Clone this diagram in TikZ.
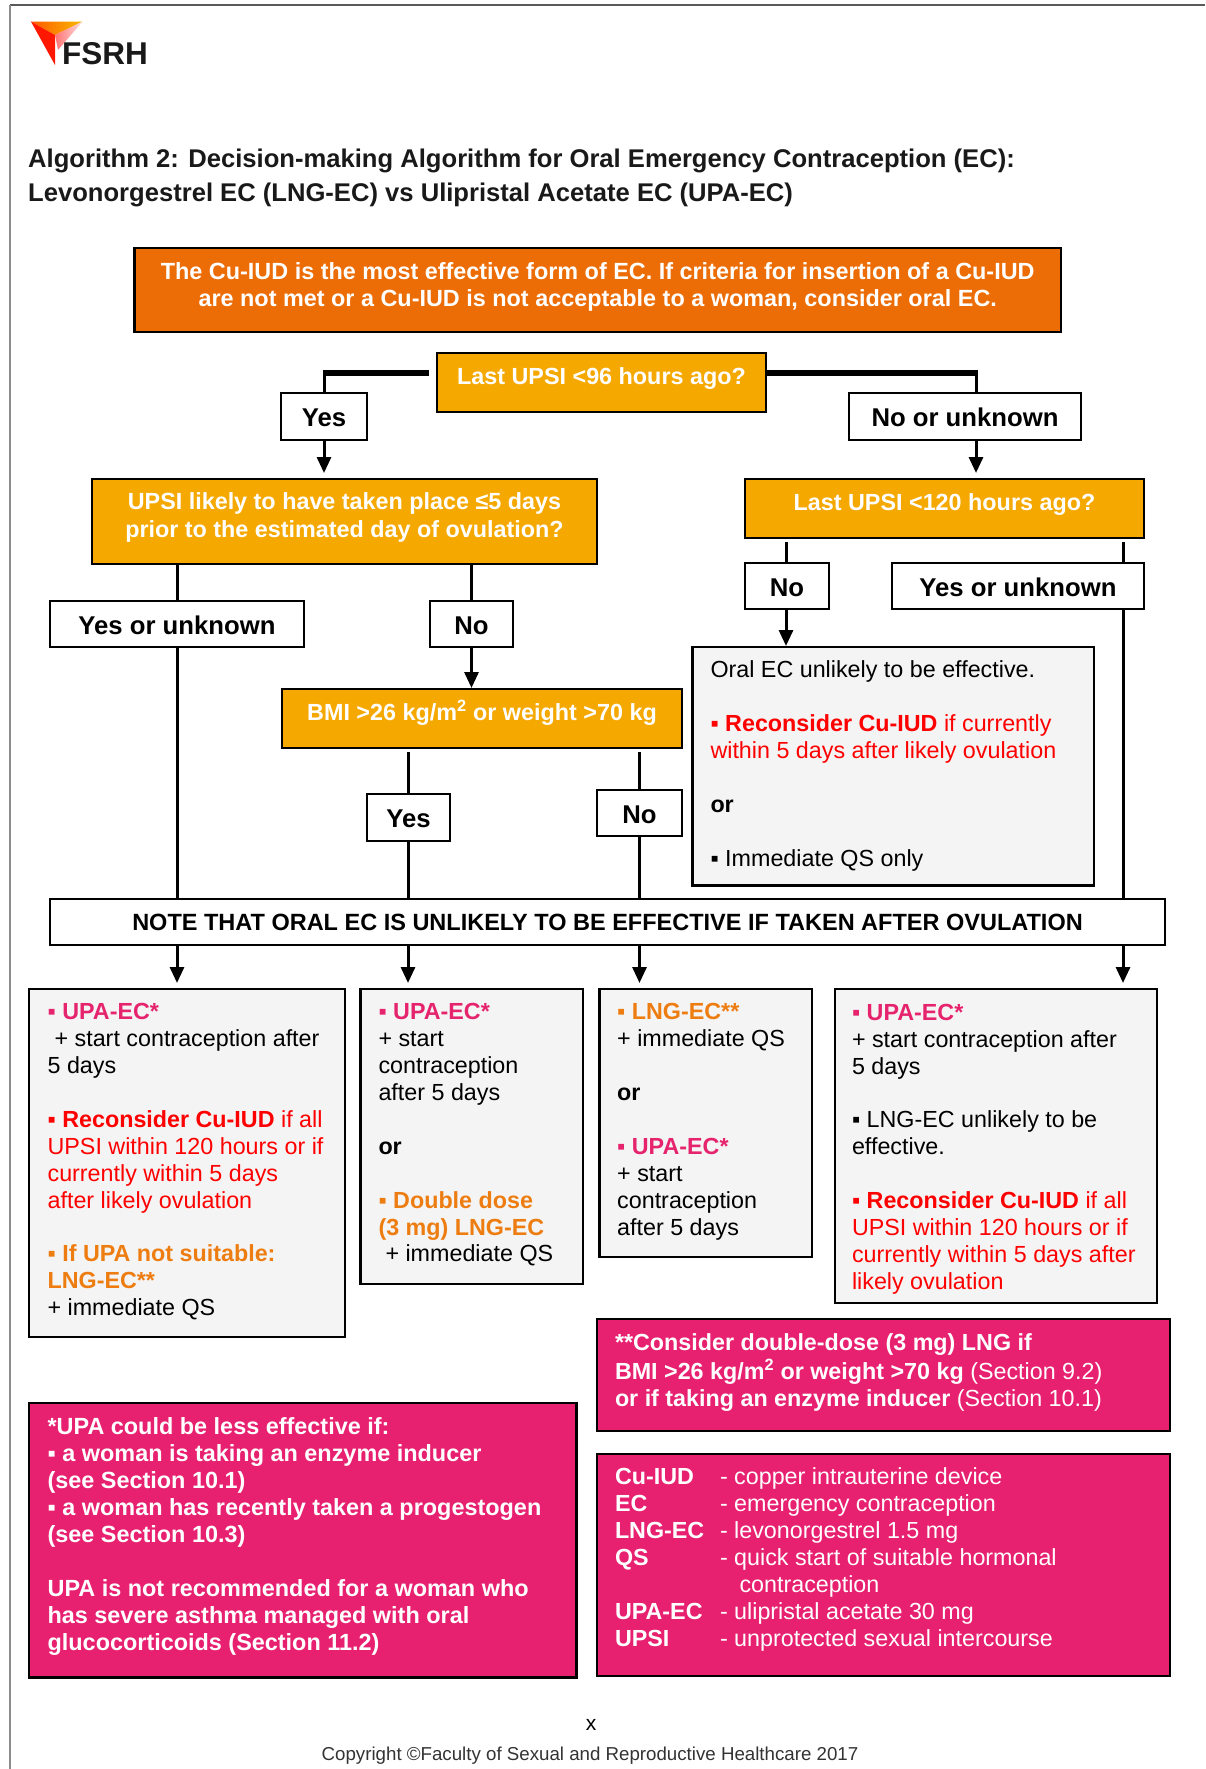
\documentclass[tikz,border=0pt]{standalone}
\usepackage{fontspec}
\setmainfont{Liberation Sans}
\usetikzlibrary{arrows.meta,shadings}
\definecolor{burnt}{HTML}{EC6C05}
\definecolor{amber}{HTML}{F5A800}
\definecolor{rosy}{HTML}{E72070}
\definecolor{panel}{HTML}{F4F4F4}
\definecolor{pinkt}{HTML}{E6246E}
\definecolor{oranget}{HTML}{EE7D11}
\definecolor{redt}{HTML}{FF0000}
\tikzset{
  frame/.style={draw=black,line width=2.4pt,outer sep=0pt,inner sep=0pt,anchor=north west,align=left},
  burntbox/.style={frame,fill=burnt,text=white},
  amberbox/.style={frame,fill=amber,text=white},
  pinkbox/.style={frame,fill=rosy,text=white},
  greybox/.style={frame,fill=panel,text=black},
  labelbox/.style={frame,fill=white,text=black},
  conn/.style={draw=black,line width=3pt},
  thickconn/.style={draw=black,line width=5.5pt},
  arrowconn/.style={conn,-{Triangle[length=16pt,width=14pt]},shorten >=0pt},
}
% \tbox{name}{style}{x1}{y1}{x2}{y2}{padx}{pady}{font size}{leading}{alignment}{text}
\newcommand{\tbox}[2]{\def\tbname{#1}\def\tbstyle{#2}\tboxb}
\newcommand{\tboxb}[6]{\def\tbxa{#1}\def\tbya{#2}\def\tbxb{#3}\def\tbyb{#4}\def\tbpx{#5}\def\tbpy{#6}\tboxc}
\newcommand{\tboxc}[4]{%
  \pgfmathsetlengthmacro{\tbw}{(\tbxb-\tbxa-2*\tbpx)*1pt}%
  \pgfmathsetlengthmacro{\tbh}{(\tbyb-\tbya)*1pt}%
  \node[\tbstyle,inner xsep=\tbpx pt,text width=\tbw] (\tbname) at (\tbxa,\tbya)
   {\vbox to \tbh{\kern\tbpy pt\fontsize{#1}{#2}\selectfont\spaceskip=0pt\xspaceskip=0pt #3\strut #4\par\vss}};%
}
\newcommand{\sq}{▪}
\begin{document}
\begin{tikzpicture}[x=1pt,y=-1pt]
\useasboundingbox (0,0) rectangle (1205,1769);
% page rules
\coordinate (ruleTL) at (10,5);
\coordinate (ruleTR) at (1205,5);
\coordinate (ruleBL) at (10,1769);
\draw[line width=1.5pt,color=black!65] (ruleTL) -- (ruleTR);
\draw[line width=1.2pt,color=black!45] (ruleTL) -- (ruleBL);
% logo
\shade[left color=orange!70!red,right color=amber!80!yellow] (31,21.6) -- (82.6,21.6) -- (55,35) -- cycle;
\fill[color=red!82!orange] (31,21.6) -- (55,35) -- (55,65) -- cycle;
\shade[left color=red!55!white,right color=red!12!white] (82.6,21.6) -- (55,35) -- (58,50) -- cycle;
\node[anchor=base west,inner sep=0pt,font=\bfseries\fontsize{31.5}{32}\selectfont,color=black!90] (logotext) at (62,65) {FSRH};
% title
\node[anchor=west,inner sep=0pt,font=\bfseries\fontsize{25.6}{26}\selectfont,color=black!90] (title1) at (28,161) {Algorithm 2: Decision-making Algorithm for Oral Emergency Contraception (EC):};
\node[anchor=west,inner sep=0pt,font=\bfseries\fontsize{25.6}{26}\selectfont,color=black!90] (title2) at (28,195) {Levonorgestrel EC (LNG-EC) vs Ulipristal Acetate EC (UPA-EC)};
% top
\tbox{top}{burntbox}{134.5}{248}{1061}{332}{0}{12}{23.4}{27.2}{\centering\bfseries}{The Cu-IUD is the most effective form of EC. If criteria for insertion of a Cu-IUD\\are not met or a Cu-IUD is not acceptable to a woman, consider oral EC.}
% decisions
\tbox{q96}{amberbox}{437}{353}{766}{412}{0}{13}{23.35}{27}{\centering\bfseries}{Last UPSI <96 hours ago?}
\tbox{q5d}{amberbox}{92}{479}{597}{564}{0}{11}{23.35}{28}{\centering\bfseries}{UPSI likely to have taken place ≤5 days\\prior to the estimated day of ovulation?}
\tbox{q120}{amberbox}{745}{479}{1144}{538}{0}{13}{23.35}{27}{\centering\bfseries}{Last UPSI <120 hours ago?}
\tbox{qbmi}{amberbox}{282}{689}{682}{748}{0}{11}{23.35}{27}{\centering\bfseries}{BMI >26 kg/m\textsuperscript{2} or weight >70 kg}
% labels
\tbox{yes1}{labelbox}{281}{393}{367}{440}{0}{15}{25.7}{27}{\centering\bfseries}{Yes}
\tbox{nou}{labelbox}{849}{393}{1081}{440}{0}{15}{25.7}{27}{\centering\bfseries}{No or unknown}
\tbox{no2}{labelbox}{745}{563}{829}{609}{0}{15}{25.7}{27}{\centering\bfseries}{No}
\tbox{you2}{labelbox}{892}{563}{1144}{609}{0}{15}{25.7}{27}{\centering\bfseries}{Yes or unknown}
\tbox{you1}{labelbox}{50}{601}{304}{647}{0}{15}{25.7}{27}{\centering\bfseries}{Yes or unknown}
\tbox{no1}{labelbox}{430}{601}{513}{647}{0}{15}{25.7}{27}{\centering\bfseries}{No}
\tbox{yes3}{labelbox}{367}{794}{450}{841}{0}{15}{25.7}{27}{\centering\bfseries}{Yes}
\tbox{no3}{labelbox}{597}{790}{682}{836}{0}{15}{25.7}{27}{\centering\bfseries}{No}
\tbox{note}{labelbox}{50}{899}{1165}{945}{0}{13}{23.5}{27}{\centering\bfseries}{NOTE THAT ORAL EC IS UNLIKELY TO BE EFFECTIVE IF TAKEN AFTER OVULATION}
% oral box
\tbox{oral}{greybox}{692.5}{647}{1094}{885.5}{18}{12}{23.3}{26.9}{}{Oral EC unlikely to be effective.\\[26.9pt]
{\color{redt}\sq\ \textbf{Reconsider Cu-IUD} if currently\\within 5 days after likely ovulation}\\[26.9pt]
\textbf{or}\\[26.9pt]
\sq\ Immediate QS only}
% outcomes
\tbox{outa}{greybox}{29}{989}{345}{1337}{18.6}{12}{23.3}{26.9}{}{{\color{pinkt}\textbf{\sq\ UPA-EC*}}\\
\hspace*{7pt}+ start contraception after\\5 days\\[26.9pt]
{\color{redt}\textbf{\sq\ Reconsider Cu-IUD} if all\\UPSI within 120 hours or if\\currently within 5 days\\after likely ovulation}\\[26.9pt]
{\color{oranget}\textbf{\sq\ If UPA not suitable:\\LNG-EC**}}\\
+ immediate QS}
\tbox{outb}{greybox}{360.5}{989}{583}{1284}{18}{12}{23.3}{26.9}{}{{\color{pinkt}\textbf{\sq\ UPA-EC*}}\\
+ start\\contraception\\after 5 days\\[26.9pt]
\textbf{or}\\[26.9pt]
{\color{oranget}\textbf{\sq\ Double dose\\(3 mg) LNG-EC}}\\
\hspace*{7pt}+ immediate QS}
\tbox{outc}{greybox}{599.5}{989}{812}{1257}{17.7}{12}{23.3}{26.9}{}{{\color{oranget}\textbf{\sq\ LNG-EC**}}\\
+ immediate QS\\[26.9pt]
\textbf{or}\\[26.9pt]
{\color{pinkt}\textbf{\sq\ UPA-EC*}}\\
+ start\\contraception\\after 5 days}
\tbox{outd}{greybox}{835}{989}{1157}{1303}{17}{12.5}{23.3}{26.9}{}{{\color{pinkt}\textbf{\sq\ UPA-EC*}}\\
+ start contraception after\\5 days\\[26.9pt]
\sq\ LNG-EC unlikely to be\\effective.\\[26.9pt]
{\color{redt}\textbf{\sq\ Reconsider Cu-IUD} if all\\UPSI within 120 hours or if\\currently within 5 days after\\likely ovulation}}
% pink notes
\tbox{dbl}{pinkbox}{597}{1319}{1170}{1431}{18}{12.6}{23.3}{26.6}{}{\textbf{**Consider double-dose (3 mg) LNG if\\BMI >26 kg/m\textsuperscript{2} or weight >70 kg} (Section 9.2)\\\textbf{or if taking an enzyme inducer} (Section 10.1)}
\tbox{upa}{pinkbox}{29}{1403}{576.5}{1677.5}{18.6}{12.5}{23.42}{27}{\bfseries}{*UPA could be less effective if:\\\sq\ a woman is taking an enzyme inducer\\(see Section 10.1)\\\sq\ a woman has recently taken a progestogen\\(see Section 10.3)\\[27pt]
UPA is not recommended for a woman who\\has severe asthma managed with oral\\glucocorticoids (Section 11.2)}
\newcommand{\abbr}[2]{\makebox[105pt][l]{\textbf{#1}}#2}
\tbox{gloss}{pinkbox}{597}{1454}{1170}{1676}{18}{12}{23.3}{27}{}{\abbr{Cu-IUD}{- copper intrauterine device}\\
\abbr{EC}{- emergency contraception}\\
\abbr{LNG-EC}{- levonorgestrel 1.5 mg}\\
\abbr{QS}{- quick start of suitable hormonal}\\
\hspace*{124.5pt}contraception\\
\abbr{UPA-EC}{- ulipristal acetate 30 mg}\\
\abbr{UPSI}{- unprotected sexual intercourse}}
% footer
\node[anchor=center,inner sep=0pt,font=\fontsize{21}{21}\selectfont] (xmark) at (591,1725) {x};
\node[anchor=center,inner sep=0pt,font=\fontsize{18.7}{20}\selectfont,color=black!80] (copy) at (590,1756) {Copyright ©Faculty of Sexual and Reproductive Healthcare 2017};
% connectors
\coordinate (yesL) at (429,373);
\coordinate (yesC) at (324,373);
\coordinate (nouC) at (976,373);
\draw[thickconn] (yesL) -- (yesC);
\draw[conn] ([xshift=0pt]yesC |- 0,370.25) -- (yesC |- yes1.north);
\draw[thickconn] (q96.east |- yesC) -- (nouC);
\draw[conn] (976,370.25) -- (976,393);
\coordinate (t1) at (324,473);
\coordinate (t2) at (976,473);
\draw[arrowconn] (yes1.south -| t1) -- (t1);
\draw[arrowconn] (nou.south -| t2) -- (t2);
\draw[conn] (q5d.south -| you1.north) -- (you1.north);
\draw[conn] (q5d.south -| no1.north) -- (no1.north);
\coordinate (n2top) at (786,542);
\coordinate (y2top) at (1123,542);
\draw[conn] (n2top) -- (n2top |- no2.north);
\draw[conn] (y2top) -- (y2top |- you2.north);
\draw[arrowconn] (n2top |- no2.south) -- (n2top |- 0,646);
\draw[conn] (y2top |- you2.south) -- (y2top |- note.north);
\draw[arrowconn] (no1.south) -- (no1.south |- 0,688);
\draw[conn] (you1.south) -- (you1.south |- note.north);
\coordinate (y3top) at (408,752);
\coordinate (n3top) at (639.5,752);
\draw[conn] (y3top) -- (y3top |- yes3.north);
\draw[conn] (n3top) -- (n3top |- no3.north);
\draw[conn] (y3top |- yes3.south) -- (y3top |- note.north);
\draw[conn] (n3top |- no3.south) -- (n3top |- note.north);
\coordinate (tipy) at (0,983);
\draw[arrowconn] (you1.south |- note.south) -- (you1.south |- tipy);
\draw[arrowconn] (y3top |- note.south) -- (y3top |- tipy);
\draw[arrowconn] (n3top |- note.south) -- (n3top |- tipy);
\draw[arrowconn] (y2top |- note.south) -- (y2top |- tipy);
\end{tikzpicture}
\end{document}
